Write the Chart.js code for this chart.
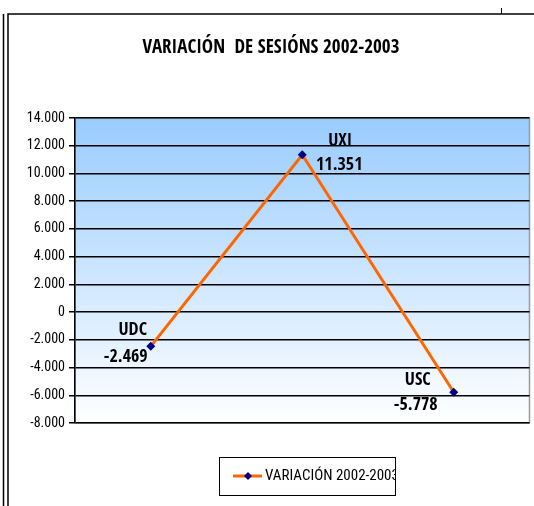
<!DOCTYPE html>
<html><head><meta charset="utf-8">
<script src="https://cdn.jsdelivr.net/npm/chart.js@4"></script>
<style>html,body{margin:0;padding:0;background:#fff}#wrap{width:534px;height:506px;position:relative}</style>
</head><body><div id="wrap"><canvas id="c" width="534" height="506"></canvas></div>
<script>
const categories = ["UDC", "UXI", "USC"];
const values = [-2469, 11351, -5778];
const seriesLabel = "VARIACIÓN 2002-2003";
const chartTitle = "VARIACIÓN  DE SESIÓNS 2002-2003";
const yMin = -8000, yMax = 14000, yStep = 2000;

const BOLDN = '"Open Sans Condensed", "Roboto Condensed", "DejaVu Sans Condensed", sans-serif';
const REGN = '"Roboto Condensed", "DejaVu Sans Condensed", sans-serif';
function fmt(v){ const s = Math.abs(v).toString().replace(/\B(?=(\d{3})+(?!\d))/g, "."); return (v<0?"-":"")+s; }

const decor = {
  id:'decor',
  beforeDraw(chart){
    const {ctx, chartArea:a} = chart;
    ctx.save();
    ctx.fillStyle='#fff'; ctx.fillRect(0,0,chart.width,chart.height);
    ctx.strokeStyle='#000'; ctx.lineWidth=1.5;
    ctx.beginPath(); ctx.moveTo(3.5,14); ctx.lineTo(3.5,506); ctx.stroke();
    ctx.beginPath(); ctx.moveTo(8,506); ctx.lineTo(8,14); ctx.lineTo(534,14); ctx.stroke();
    ctx.lineWidth=1;
    ctx.beginPath(); ctx.moveTo(501.5,8); ctx.lineTo(501.5,14); ctx.stroke();
    const g = ctx.createLinearGradient(0,a.top,0,a.bottom);
    g.addColorStop(0,'#99CCFF'); g.addColorStop(1,'#FFFFFF');
    ctx.fillStyle=g; ctx.fillRect(a.left,a.top,a.right-a.left,a.bottom-a.top);
    ctx.strokeStyle='#9a9a9a'; ctx.lineWidth=1.5;
    ctx.strokeRect(a.left,a.top,a.right-a.left,a.bottom-a.top);
    ctx.fillStyle='#000'; ctx.font='bold 19px '+BOLDN; ctx.textAlign='center'; ctx.textBaseline='middle';
    ctx.fillText(chartTitle, 271, 48);
    ctx.restore();
  },
  afterDatasetsDraw(chart){
    const {ctx} = chart;
    const meta = chart.getDatasetMeta(0);
    const offs = [[-18,-16,-25,11],[38,-13,37,11],[-36,-12,-38,13]];
    ctx.save();
    ctx.fillStyle='#000'; ctx.font='bold 18px '+BOLDN; ctx.textAlign='center'; ctx.textBaseline='middle';
    meta.data.forEach((p,i)=>{
      const o=offs[i];
      ctx.fillText(categories[i], p.x+o[0], p.y+o[1]);
      ctx.fillText(fmt(values[i]), p.x+o[2], p.y+o[3]);
    });
    const bx=219, by=457, bw=176, bh=38;
    ctx.fillStyle='#fff'; ctx.fillRect(bx,by,bw,bh);
    ctx.strokeStyle='#000'; ctx.lineWidth=1; ctx.strokeRect(bx+0.5,by+0.5,bw,bh);
    const ly = by+bh/2;
    ctx.strokeStyle='#FF6600'; ctx.lineWidth=3;
    ctx.beginPath(); ctx.moveTo(233,ly); ctx.lineTo(262,ly); ctx.stroke();
    ctx.fillStyle='#000080';
    ctx.beginPath(); ctx.moveTo(248,ly-4); ctx.lineTo(252,ly); ctx.lineTo(248,ly+4); ctx.lineTo(244,ly); ctx.closePath(); ctx.fill();
    ctx.save(); ctx.beginPath(); ctx.rect(bx,by,bw,bh); ctx.clip();
    ctx.fillStyle='#000'; ctx.font='15px '+REGN; ctx.textAlign='left';
    ctx.fillText(seriesLabel, 265, ly);
    ctx.restore();
    ctx.restore();
  }
};

new Chart(document.getElementById('c'), {
  type:'line',
  data:{ labels:categories, datasets:[{
    label:seriesLabel, data:values,
    borderColor:'#FF6600', borderWidth:3, tension:0,
    pointStyle:'rectRot', pointRadius:4.5, pointBackgroundColor:'#000080', pointBorderColor:'#000080', pointBorderWidth:0
  }]},
  options:{
    responsive:false, animation:false, devicePixelRatio:1,
    layout:{padding:{left:0,right:4,top:118,bottom:83}},
    plugins:{legend:{display:false}, title:{display:false}, tooltip:{enabled:false}},
    scales:{
      x:{type:'category', offset:true, display:false},
      y:{min:yMin, max:yMax,
        afterFit(s){ s.width = 75; },
        ticks:{stepSize:yStep, color:'#000', font:{family:REGN, size:14}, padding:4, callback:(v)=>fmt(v)},
        grid:{color:'#000', lineWidth:1.5, drawTicks:true, tickLength:6, tickColor:'#000'},
        border:{display:true, color:'#000', width:1.5}
      }
    }
  },
  plugins:[decor]
});
</script></body></html>
